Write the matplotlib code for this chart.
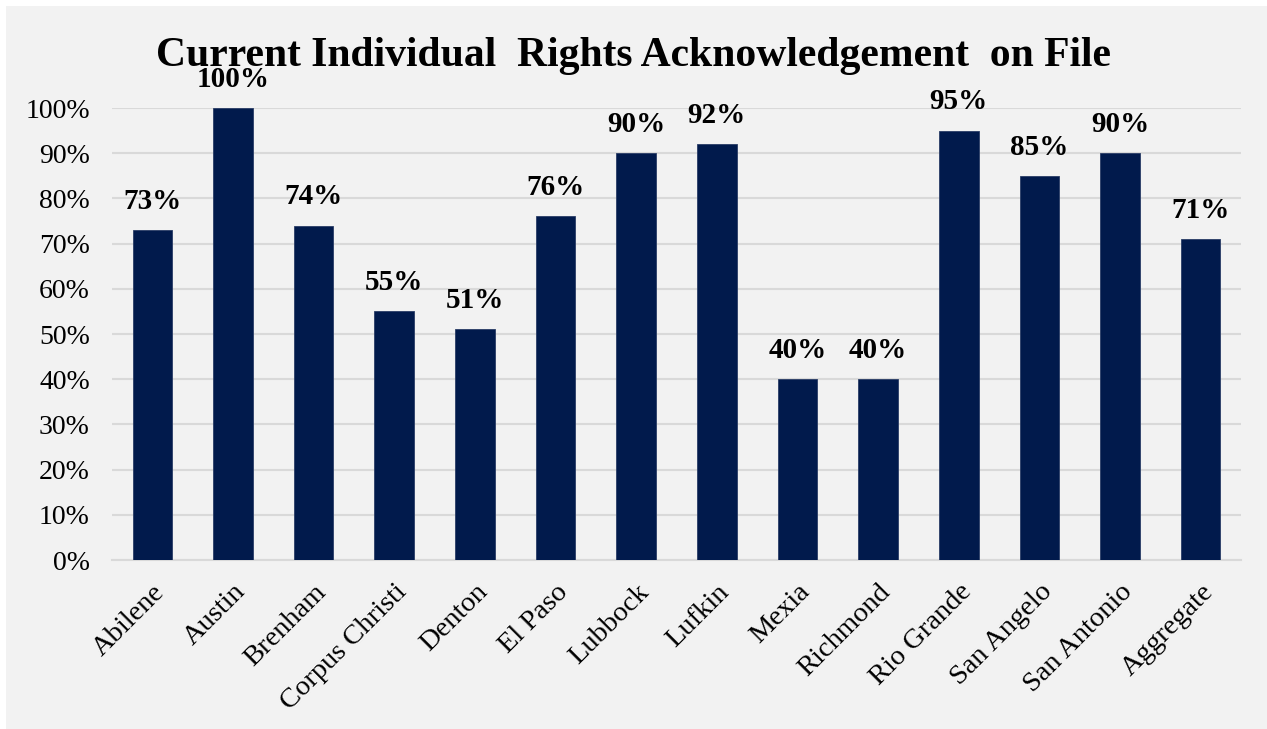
import matplotlib.pyplot as plt
from matplotlib.patches import Rectangle
from matplotlib.ticker import PercentFormatter

# share of files with a current individual rights acknowledgement, by office
offices = ['Abilene', 'Austin', 'Brenham', 'Corpus Christi', 'Denton', 'El Paso',
           'Lubbock', 'Lufkin', 'Mexia', 'Richmond', 'Rio Grande', 'San Angelo',
           'San Antonio', 'Aggregate']
pct = [73, 100, 74, 55, 51, 76, 90, 92, 40, 40, 95, 85, 90, 71]

plt.rcParams['font.family'] = ['Liberation Serif', 'DejaVu Serif']

fig = plt.figure(figsize=(12.67, 7.29), dpi=100, facecolor='white')
# grey chart panel behind everything
fig.patches.append(Rectangle((6 / 1267, 0), 1, 1 - 6 / 729,
                             transform=fig.transFigure, facecolor='#f2f2f2',
                             edgecolor='none', zorder=-10))

ax = fig.add_axes([112 / 1267, 1 - 560 / 729, (1241 - 112) / 1267, (560 - 108) / 729])
ax.set_facecolor('none')

x = range(len(offices))
bars = ax.bar(x, pct, width=0.49, color='#011a4c', edgecolor='#2a3d66',
              linewidth=0.6, zorder=3)

for b, v in zip(bars, pct):
    ax.annotate(f'{v}%', (b.get_x() + b.get_width() / 2, v),
                xytext=(0, 11), textcoords='offset points',
                ha='center', va='bottom', fontsize=21, fontweight='bold',
                annotation_clip=False)

ax.set_xlim(-0.5, len(offices) - 0.5)
ax.set_ylim(0, 100)
ax.set_yticks(range(0, 101, 10))
ax.yaxis.set_major_formatter(PercentFormatter(decimals=0))
ax.grid(axis='y', color='#d9d9d9', linewidth=1.5, zorder=0)
ax.set_axisbelow(True)

ax.set_xticks(list(x))
ax.set_xticklabels(offices, rotation=45, ha='right', rotation_mode='anchor')
ax.tick_params(axis='both', length=0, labelsize=20, colors='black')
ax.tick_params(axis='x', pad=14, labelsize=20.5)
ax.tick_params(axis='y', pad=16)

for s in ['top', 'right', 'left']:
    ax.spines[s].set_visible(False)
ax.spines['bottom'].set_color('#d9d9d9')
ax.spines['bottom'].set_linewidth(1.5)

fig.text(0.5, 1 - 66 / 729, 'Current Individual  Rights Acknowledgement  on File',
         ha='center', va='baseline', fontsize=30, fontweight='bold')

fig.savefig('out.png', dpi=100)
